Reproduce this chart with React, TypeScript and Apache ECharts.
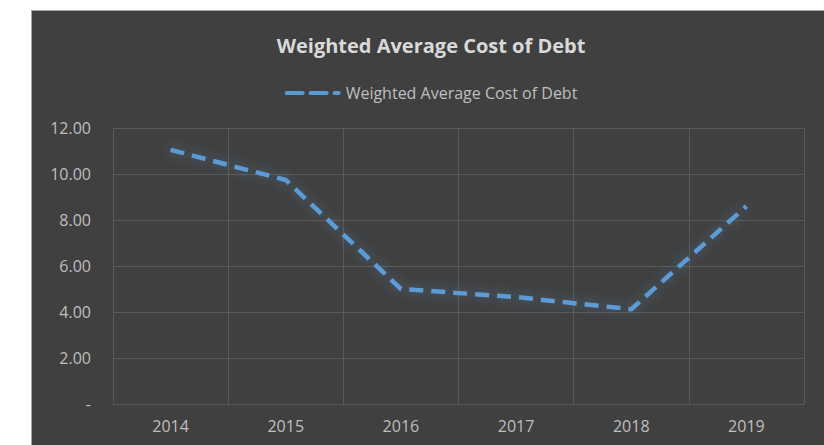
import React, { useEffect, useRef } from "react";
import * as echarts from "echarts";

const years = ["2014", "2015", "2016", "2017", "2018", "2019"];
const costOfDebt = [11.05, 9.74, 5.0, 4.65, 4.12, 8.6];
const yTicks = [0, 2, 4, 6, 8, 10, 12];

export default function App() {
  const ref = useRef<HTMLDivElement>(null);
  useEffect(() => {
    if (!ref.current) return;
    const chart = echarts.init(ref.current, undefined, { renderer: "svg" });
    const font = "'Open Sans', 'Noto Sans', sans-serif";
    const seriesName = "Weighted Average Cost of Debt";
    chart.setOption({
      animation: false,
      backgroundColor: "#404040",
      title: {
        text: "Weighted Average Cost of Debt",
        left: "center",
        top: 19,
        textStyle: { color: "#d9d9d9", fontSize: 20, fontWeight: "bold", fontFamily: font },
      },
      legend: {
        top: 69,
        left: "center",
        itemWidth: 56,
        itemHeight: 5,
        itemGap: 4,
        textStyle: { color: "#bfbfbf", fontSize: 16, fontFamily: font },
        data: [
          {
            name: seriesName,
            icon: "path://M2,0 H18 A2,2 0 0 1 18,4 H2 A2,2 0 0 1 2,0 Z M26,0 H42 A2,2 0 0 1 42,4 H26 A2,2 0 0 1 26,0 Z M50,0 H54 A2,2 0 0 1 54,4 H50 A2,2 0 0 1 50,0 Z",
          },
        ],
      },
      grid: { left: 81, right: 26, top: 117, bottom: 41, containLabel: false },
      xAxis: {
        type: "category",
        data: years,
        boundaryGap: true,
        axisLine: { show: true, lineStyle: { color: "#595959", width: 1 } },
        axisTick: { show: false },
        axisLabel: { color: "#bfbfbf", fontSize: 16, fontFamily: font, margin: 14 },
        splitLine: { show: true, interval: 0, lineStyle: { color: "#595959", width: 1 } },
      },
      yAxis: {
        type: "value",
        min: yTicks[0],
        max: yTicks[yTicks.length - 1],
        interval: 2,
        axisLine: { show: true, lineStyle: { color: "#595959", width: 1 } },
        axisTick: { show: false },
        axisLabel: {
          color: "#bfbfbf",
          fontSize: 16,
          fontFamily: font,
          margin: 22,
          formatter: (v: number) => (v === 0 ? "-" : v.toFixed(2)),
        },
        splitLine: { show: true, lineStyle: { color: "#595959", width: 1 } },
      },
      series: [
        {
          name: seriesName,
          type: "line",
          data: costOfDebt,
          symbol: "none",
          color: "#5b9bd5",
          lineStyle: {
            color: "#5b9bd5",
            width: 4.5,
            type: [14, 8],
            shadowBlur: 12,
            shadowColor: "rgba(91,155,213,0.5)",
          },
        },
      ],
    });
    return () => chart.dispose();
  }, []);
  return (
    <div
      style={{
        position: "fixed",
        left: 0,
        top: 0,
        width: 824,
        height: 445,
        overflow: "hidden",
        background: "#ffffff",
      }}
    >
      <div
        style={{
          position: "absolute",
          left: 31,
          top: 10,
          width: 810,
          height: 440,
          borderLeft: "1px solid #a6a6a6",
          borderTop: "1px solid #a6a6a6",
          background: "#404040",
        }}
      />
      <div
        ref={ref}
        style={{ position: "absolute", left: 32, top: 11, width: 798, height: 434 }}
      />
    </div>
  );
}
